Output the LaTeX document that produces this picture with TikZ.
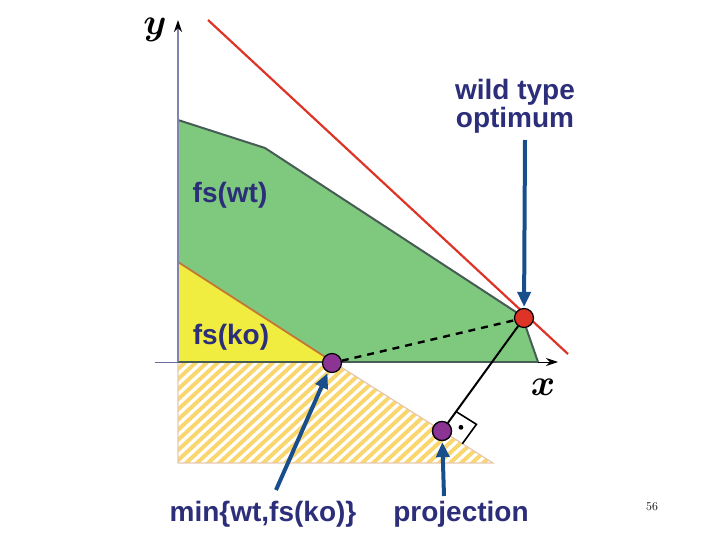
\documentclass[tikz,border=0pt]{standalone}
\usepackage{fontspec}
\usepackage{amsmath,bm,graphicx}
\usetikzlibrary{arrows.meta,calc}
\newfontfamily\lab{Liberation Sans}
\definecolor{navy}{RGB}{44,46,122}
\definecolor{arrowblue}{RGB}{24,78,140}
\definecolor{leafgreen}{RGB}{126,201,126}
\definecolor{greenedge}{RGB}{72,92,86}
\definecolor{kofill}{RGB}{240,236,64}
\definecolor{koedge}{RGB}{196,118,52}
\definecolor{hatchfill}{RGB}{250,214,110}
\definecolor{optred}{RGB}{222,52,40}
\definecolor{dotpurple}{RGB}{139,52,148}
\newcommand{\pnt}[3]{\node[pt,fill=#3] (#1) at (#2) {}}
\newcommand{\point}[2]{\draw[arr] (#1) -- (#2)}
\newcommand{\axname}[1]{\scalebox{3.7}{$\bm{#1}$}}
\tikzset{
  lbl/.style = {text=navy, font=\lab\bfseries\fontsize{28}{28}\selectfont, align=center, inner sep=0},
  pt/.style = {circle, draw=black, line width=1.2pt, minimum size=19pt, inner sep=0},
  arr/.style = {draw=arrowblue, line width=4pt, -{Triangle[length=15pt,width=13pt]}, shorten >=1pt}
}

\begin{document}
\begin{tikzpicture}[x=1pt, y=-1pt]
	\useasboundingbox (0,0) rectangle (720,540);
%The hatched region
	\begin{scope}
		\clip (178,362) -- (333,362) -- (493,463) -- (178,463) -- cycle;
		\fill[hatchfill] (178,362) rectangle (493,463);
		\foreach \i in {30,41,...,520}
			\draw[white, line width=3.2pt] (\i,470) -- (\i+130,350);
	\end{scope}
	\draw[koedge!40, line width=1.2pt] (178,362) -- (178,463) -- (493,463) -- (333,362);
%The wild type
	\fill[leafgreen] (178,120) -- (265,148) -- (522,316) -- (538,362) -- (178,362) -- cycle;
	\draw[greenedge, line width=2pt] (178,120) -- (265,148) -- (522,316) -- (538,362);
%The knock out
	\fill[kofill] (178,262) -- (333,362) -- (178,362) -- cycle;
	\draw[koedge, line width=1.8pt] (178,262) -- (333,362);
%Axes
	\draw[greenedge, line width=2.5pt] (178,362) -- (538,362);
	\draw[navy!70, line width=1pt] (155,362) -- (178,362);
	\draw[black, line width=1pt, -{Stealth[length=12pt,width=8pt]}] (538,362) -- (558,362);
	\draw[navy!60, line width=1.5pt, -{Stealth[length=12pt,width=8pt,black]}] (178,362) -- (178,20);
	\node[inner sep=0] at (155,30) {\axname{y}};
	\node[inner sep=0] at (543,387) {\axname{x}};
%The optimum
	\draw[optred, line width=2.2pt] (208,20) -- (568,354);
	\pnt{wt}{524,318}{optred};
	\pnt{ko}{332,363}{dotpurple};
	\pnt{proj}{442,431}{dotpurple};
	\draw[black, line width=2.4pt, dash pattern=on 7pt off 6pt] (ko) -- (wt);
	\draw[black, line width=2pt] (wt) -- (proj);
	\coordinate (ra) at ($(proj)!24pt!(wt)$);
	\coordinate (rb) at ($(proj)!24pt!(493,463)$);
	\draw[black, line width=1.6pt] (ra) -- ($(ra)+(rb)-(proj)$) -- (rb);
	\fill[black] ($(proj)!0.55!($(ra)+(rb)-(proj)$)$) circle (2.4pt);
	\pnt{proj}{442,431}{dotpurple};
%Labels
	\node[lbl] (lwt) at (515,106) {wild type\\optimum};
	\node[lbl] at (230,195) {fs(wt)};
	\node[lbl] at (231,337) {fs(ko)};
	\node[lbl] (lmin) at (263,514) {min\{wt,fs(ko)\}};
	\node[lbl] (lproj) at (461,514) {projection};
	\node at (652,507) {\fontsize{12}{12}\selectfont 56};
%Arrows
	\coordinate (s1) at (525,140);
	\coordinate (s2) at (276,490);
	\coordinate (s3) at (444,496);
	\point{s1}{wt};
	\point{s2}{ko};
	\point{s3}{proj};
\end{tikzpicture}
\end{document}
